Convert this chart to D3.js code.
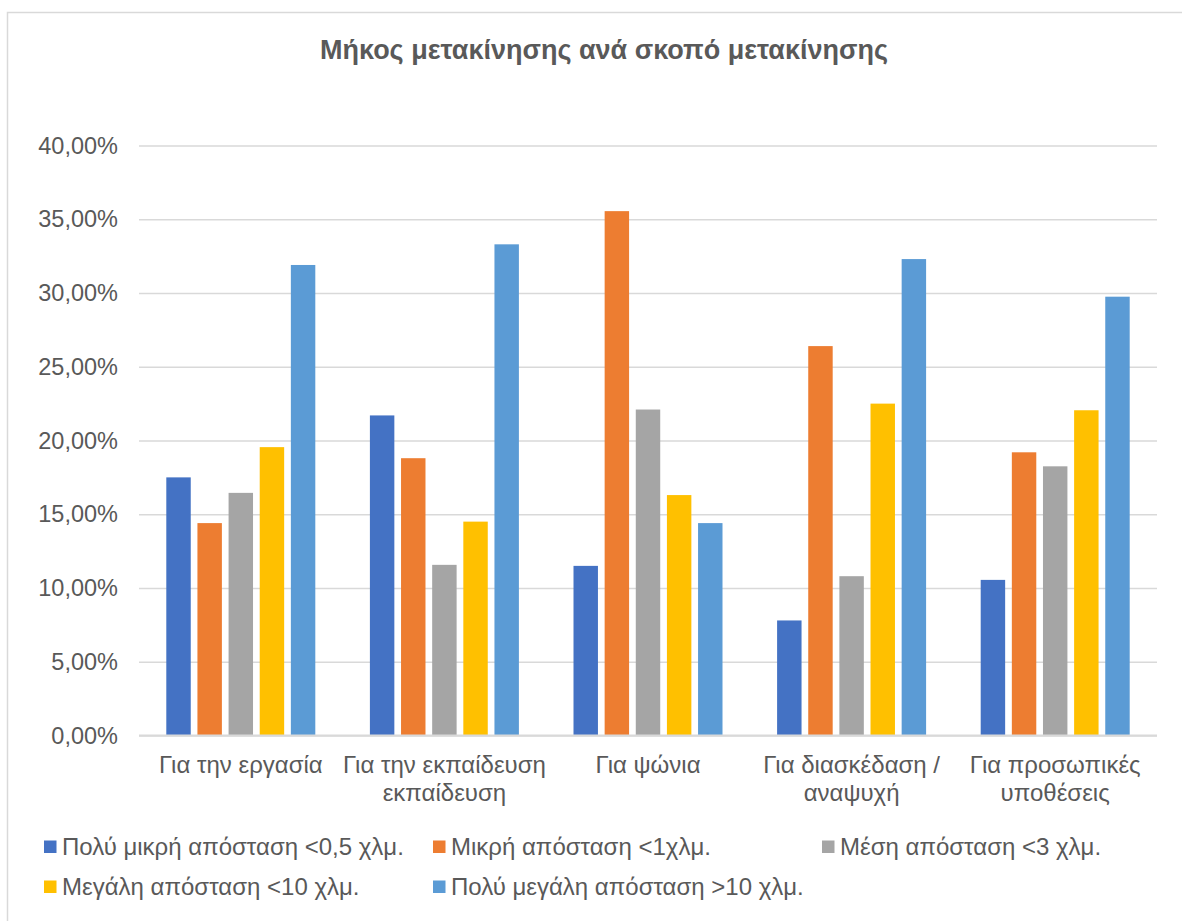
<!DOCTYPE html>
<html>
<head>
<meta charset="utf-8">
<script src="https://cdn.jsdelivr.net/npm/d3@7.9.0/dist/d3.min.js"></script>
<style>
  body { margin: 0; background: #fff; }
  svg text { font-family: "Liberation Sans", Arial, sans-serif; fill: #595959; }
</style>
</head>
<body>
<svg id="chart" width="1182" height="921"></svg>
<script>
// === Data ===
const title = 'Μήκος μετακίνησης ανά σκοπό μετακίνησης';
const categories = [
  'Για την εργασία',
  'Για την εκπαίδευση\nεκπαίδευση',
  'Για ψώνια',
  'Για διασκέδαση /\nαναψυχή',
  'Για προσωπικές\nυποθέσεις'
];
const seriesNames = [
  'Πολύ μικρή απόσταση <0,5 χλμ.',
  'Μικρή απόσταση <1χλμ.',
  'Μέση απόσταση <3 χλμ.',
  'Μεγάλη απόσταση <10 χλμ.',
  'Πολύ μεγάλη απόσταση >10 χλμ.'
];
// one array per series, values in the order of categories
const veryShort = [0.175, 0.217, 0.115, 0.078, 0.1055];
const short = [0.144, 0.188, 0.3555, 0.264, 0.192];
const medium = [0.1645, 0.1157, 0.221, 0.108, 0.1825];
const long = [0.1955, 0.145, 0.163, 0.225, 0.2205];
const veryLong = [0.319, 0.333, 0.144, 0.323, 0.2975];
const yTicks = [0, 0.05, 0.10, 0.15, 0.20, 0.25, 0.30, 0.35, 0.40];

const seriesValues = [veryShort, short, medium, long, veryLong];
const colors = ['#4472C4', '#ED7D31', '#A5A5A5', '#FFC000', '#5B9BD5'];

// === Setup ===
const svg = d3.select('#chart');
const locale = d3.formatLocale({ decimal: ',', thousands: '.', grouping: [3], currency: ['', '€'] });
const pct = locale.format('.2%');

const plot = { left: 139, right: 1157, top: 145.5, bottom: 735.5 };

const x0 = d3.scaleBand().domain(categories).range([plot.left, plot.right]);
const groupPad = 27.3;
const x1 = d3.scaleBand()
  .domain(d3.range(seriesNames.length))
  .range([groupPad, x0.bandwidth() - groupPad])
  .paddingInner(0.215);
const y = d3.scaleLinear().domain([0, 0.4]).range([plot.bottom, plot.top]);

// chart border (runs off the right and bottom of the picture)
svg.append('rect')
  .attr('x', 7.5).attr('y', 12.5)
  .attr('width', 1220).attr('height', 1000)
  .attr('fill', 'none').attr('stroke', '#d9d9d9').attr('stroke-width', 1.5);

// title
svg.append('text')
  .attr('x', 604).attr('y', 58.5)
  .attr('text-anchor', 'middle')
  .style('font-size', '27px').style('font-weight', 'bold')
  .text(title);

// gridlines + y labels
const yAxis = d3.axisLeft(y).tickValues(yTicks).tickFormat(pct)
  .tickSize(-(plot.right - plot.left)).tickPadding(21);
const gy = svg.append('g').attr('transform', `translate(${plot.left},0)`).call(yAxis);
gy.select('.domain').remove();
gy.selectAll('line').attr('stroke', '#d9d9d9').attr('stroke-width', 1.5);
gy.selectAll('text').style('font-size', '23.5px').attr('fill', '#595959');

// bars
const groups = svg.append('g').selectAll('g')
  .data(categories)
  .join('g')
  .attr('transform', d => `translate(${x0(d)},0)`);

groups.selectAll('rect')
  .data((d, ci) => seriesValues.map((vals, si) => ({ si, value: vals[ci] })))
  .join('rect')
  .attr('x', d => x1(d.si))
  .attr('width', x1.bandwidth())
  .attr('y', d => y(d.value))
  .attr('height', d => y(0) - y(d.value))
  .attr('fill', d => colors[d.si]);

// baseline drawn over bars
svg.append('line')
  .attr('x1', plot.left).attr('x2', plot.right)
  .attr('y1', y(0)).attr('y2', y(0))
  .attr('stroke', '#d9d9d9').attr('stroke-width', 2);

// category labels (manual line breaks)
categories.forEach(cat => {
  const cx = x0(cat) + x0.bandwidth() / 2;
  const t = svg.append('text')
    .attr('x', cx)
    .attr('y', 773)
    .attr('text-anchor', 'middle')
    .style('font-size', '24px');
  cat.split('\n').forEach((line, i) => {
    t.append('tspan')
      .attr('x', cx)
      .attr('dy', i === 0 ? 0 : 28)
      .text(line);
  });
});

// legend
const legendCols = 3, colWidth = 389, rowHeight = 40;
const legend = svg.append('g').attr('transform', 'translate(44,840.5)');
seriesNames.forEach((name, i) => {
  const item = legend.append('g')
    .attr('transform', `translate(${(i % legendCols) * colWidth},${Math.floor(i / legendCols) * rowHeight})`);
  item.append('rect')
    .attr('width', 12.5).attr('height', 12.5)
    .attr('fill', colors[i]);
  item.append('text')
    .attr('x', 18).attr('y', 14.5)
    .style('font-size', '24px')
    .text(name);
});
</script>
</body>
</html>
